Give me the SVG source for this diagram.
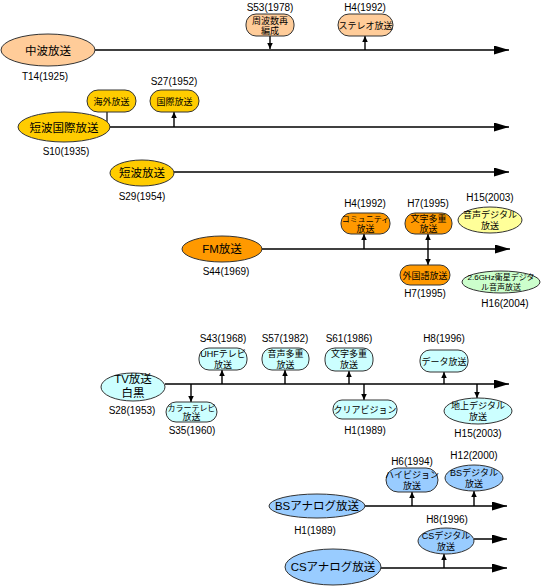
<svg xmlns="http://www.w3.org/2000/svg" width="542" height="588" viewBox="0 0 542 588">
<defs>
<style>
text{font-family:"Liberation Sans","Noto Sans CJK JP",sans-serif;text-anchor:middle;fill:#000}
.lbl{font-size:10px}
.big{font-size:11.5px}
.sm{font-size:9px}
.xs{font-size:8px}
.nd{stroke:#333;stroke-width:1}
.main{stroke:#000;stroke-width:1.6;fill:none;marker-end:url(#bigArrow)}
.tick{stroke:#000;stroke-width:1.4;fill:none;marker-end:url(#smArrow)}
.plain{stroke:#000;stroke-width:1.2;fill:none}
.c1{fill:#FFCC99}.c2{fill:#FFCC00}.c3{fill:#FF9900}.c4{fill:#FFFF99}.c5{fill:#CCFFCC}.c6{fill:#CCFFFF}.c7{fill:#99CCFF}
</style>
<marker id="bigArrow" markerUnits="userSpaceOnUse" markerWidth="16" markerHeight="10" refX="15" refY="4.5" orient="auto"><path d="M0,0 L15,4.5 L0,9 z" fill="#000"/></marker>
<marker id="smArrow" markerUnits="userSpaceOnUse" markerWidth="6" markerHeight="7" refX="6" refY="2.75" orient="auto"><path d="M0,0 L6,2.75 L0,5.5 z" fill="#000"/></marker>
</defs>
<g id="connectors">
<line class="main" x1="95" y1="50" x2="509" y2="50"/>
<line class="tick" x1="270" y1="36" x2="270" y2="49"/>
<line class="tick" x1="365" y1="50" x2="365" y2="36"/>
<line class="main" x1="109" y1="127" x2="509" y2="127"/>
<line class="plain" x1="107" y1="112" x2="107" y2="127"/>
<line class="tick" x1="174" y1="127" x2="174" y2="112"/>
<line class="main" x1="174" y1="172" x2="509" y2="172"/>
<line class="main" x1="262" y1="249" x2="510" y2="249"/>
<line class="tick" x1="364" y1="249" x2="364" y2="234"/>
<line class="tick" x1="428" y1="249" x2="428" y2="234"/>
<line class="tick" x1="428" y1="249" x2="428" y2="265"/>
<line class="main" x1="165" y1="384" x2="509" y2="384"/>
<line class="tick" x1="191" y1="384" x2="191" y2="402"/>
<line class="tick" x1="222" y1="384" x2="222" y2="370"/>
<line class="tick" x1="285" y1="384" x2="285" y2="370"/>
<line class="tick" x1="349" y1="384" x2="349" y2="371"/>
<line class="tick" x1="364" y1="384" x2="364" y2="400"/>
<line class="tick" x1="444" y1="384" x2="444" y2="372"/>
<line class="tick" x1="477" y1="384" x2="477" y2="398"/>
<line class="main" x1="365" y1="506" x2="507" y2="506"/>
<line class="tick" x1="412" y1="506" x2="412" y2="492"/>
<line class="tick" x1="474" y1="506" x2="474" y2="491"/>
<line class="main" x1="381" y1="568" x2="507" y2="568"/>
<line class="main" x1="474" y1="539" x2="507" y2="539"/>
<line class="tick" x1="444" y1="568" x2="444" y2="554"/>
</g>
<g id="n-chuha"><ellipse class="nd c1" cx="48" cy="50" rx="47" ry="16"/><text class="big" x="48" y="54.5">中波放送</text><text class="lbl" x="45" y="80">T14(1925)</text></g>
<g id="n-shuhasu"><rect class="nd c1" x="246" y="14" width="48" height="22" rx="10"/><text class="sm" x="270" y="23.5">周波数再<tspan x="270" dy="10.5">編成</tspan></text><text class="lbl" x="270" y="10.5">S53(1978)</text></g>
<g id="n-stereo"><rect class="nd c1" x="338" y="14" width="55" height="22" rx="11"/><text class="sm" x="365.5" y="28.5">ステレオ放送</text><text class="lbl" x="365" y="10.5">H4(1992)</text></g>
<g id="n-tanpakokusai"><ellipse class="nd c2" cx="64" cy="127" rx="46" ry="15"/><text class="big" x="64" y="131.5">短波国際放送</text><text class="lbl" x="66" y="155">S10(1935)</text></g>
<g id="n-kaigai"><rect class="nd c2" x="87" y="90" width="49" height="22" rx="11"/><text class="sm" x="111.5" y="104.5">海外放送</text></g>
<g id="n-kokusai"><rect class="nd c2" x="150" y="90" width="49" height="22" rx="11"/><text class="sm" x="174.5" y="104.5">国際放送</text><text class="lbl" x="174" y="85">S27(1952)</text></g>
<g id="n-tanpa"><ellipse class="nd c2" cx="142" cy="173" rx="32" ry="13"/><text class="big" x="142" y="177">短波放送</text><text class="lbl" x="142" y="200">S29(1954)</text></g>
<g id="n-fm"><ellipse class="nd c3" cx="222" cy="249" rx="40" ry="13"/><text class="big" x="222" y="253">FM放送</text><text class="lbl" x="226" y="275">S44(1969)</text></g>
<g id="n-community"><rect class="nd c3" x="341" y="213" width="49" height="21" rx="10"/><text class="xs" x="365.5" y="221.5">コミュニティ<tspan class="sm" x="365.5" dy="10.5">放送</tspan></text><text class="lbl" x="365" y="207">H4(1992)</text></g>
<g id="n-fmmoji"><rect class="nd c3" x="405" y="213" width="47" height="21" rx="10"/><text class="sm" x="428.5" y="221.5">文字多重<tspan x="428.5" dy="10.5">放送</tspan></text><text class="lbl" x="428" y="207">H7(1995)</text></g>
<g id="n-gaikokugo"><rect class="nd c3" x="400" y="265" width="50" height="20" rx="10"/><text class="sm" x="425" y="278.5">外国語放送</text><text class="lbl" x="425" y="297">H7(1995)</text></g>
<g id="n-onseidigital"><ellipse class="nd c4" cx="490" cy="220" rx="32" ry="13"/><text class="sm" x="490" y="217.5">音声デジタル<tspan x="490" dy="11">放送</tspan></text><text class="lbl" x="490" y="201">H15(2003)</text></g>
<g id="n-satellite"><ellipse class="nd c5" cx="501" cy="282" rx="39" ry="11"/><text class="xs" x="501" y="280">2.6GHz衛星デジタ<tspan x="501" dy="9.5">ル音声放送</tspan></text><text class="lbl" x="505" y="307">H16(2004)</text></g>
<g id="n-tv"><ellipse class="nd c6" cx="133" cy="387" rx="32" ry="14"/><text class="big" x="133" y="383">TV放送<tspan x="133" dy="14">白黒</tspan></text><text class="lbl" x="132" y="414">S28(1953)</text></g>
<g id="n-color"><rect class="nd c6" x="166" y="402" width="51" height="20" rx="10"/><text class="xs" x="191.5" y="410.5">カラーテレビ<tspan class="sm" x="191.5" dy="9.5">放送</tspan></text><text class="lbl" x="192" y="434">S35(1960)</text></g>
<g id="n-uhf"><rect class="nd c6" x="199" y="348" width="48" height="22" rx="10"/><text class="sm" x="223" y="357">UHFテレビ<tspan x="223" dy="10.5">放送</tspan></text><text class="lbl" x="223" y="342">S43(1968)</text></g>
<g id="n-onseitaju"><rect class="nd c6" x="262" y="348" width="47" height="22" rx="10"/><text class="sm" x="285.5" y="357">音声多重<tspan x="285.5" dy="10.5">放送</tspan></text><text class="lbl" x="285" y="342">S57(1982)</text></g>
<g id="n-tvmoji"><rect class="nd c6" x="325" y="348" width="48" height="23" rx="10"/><text class="sm" x="349" y="357">文字多重<tspan x="349" dy="10.5">放送</tspan></text><text class="lbl" x="349" y="342">S61(1986)</text></g>
<g id="n-clear"><rect class="nd c6" x="333" y="400" width="64" height="19" rx="9"/><text class="sm" x="365" y="413">クリアビジョン</text><text class="lbl" x="365" y="434">H1(1989)</text></g>
<g id="n-data"><rect class="nd c6" x="420" y="350" width="48" height="22" rx="10"/><text class="sm" x="444" y="364.5">データ放送</text><text class="lbl" x="444" y="342">H8(1996)</text></g>
<g id="n-chijo"><ellipse class="nd c6" cx="478" cy="411" rx="34" ry="13"/><text class="sm" x="478" y="408.5">地上デジタル<tspan x="478" dy="11">放送</tspan></text><text class="lbl" x="478" y="437">H15(2003)</text></g>
<g id="n-bsanalog"><ellipse class="nd c7" cx="317" cy="506" rx="48" ry="12"/><text class="big" x="317" y="510">BSアナログ放送</text><text class="lbl" x="315" y="534">H1(1989)</text></g>
<g id="n-hivision"><rect class="nd c7" x="386" y="468" width="52" height="24" rx="12"/><text class="sm" x="412" y="477.5">ハイビジョン<tspan x="412" dy="11">放送</tspan></text><text class="lbl" x="412" y="465">H6(1994)</text></g>
<g id="n-bsdigital"><ellipse class="nd c7" cx="474" cy="478" rx="29" ry="13"/><text class="sm" x="474" y="475.5">BSデジタル<tspan x="474" dy="11">放送</tspan></text><text class="lbl" x="474" y="459">H12(2000)</text></g>
<g id="n-csanalog"><ellipse class="nd c7" cx="333" cy="567" rx="48" ry="18"/><text class="big" x="333" y="571">CSアナログ放送</text></g>
<g id="n-csdigital"><ellipse class="nd c7" cx="446" cy="541" rx="28" ry="13"/><text class="sm" x="446" y="538.5">CSデジタル<tspan x="446" dy="11">放送</tspan></text><text class="lbl" x="447" y="523">H8(1996)</text></g>
</svg>
